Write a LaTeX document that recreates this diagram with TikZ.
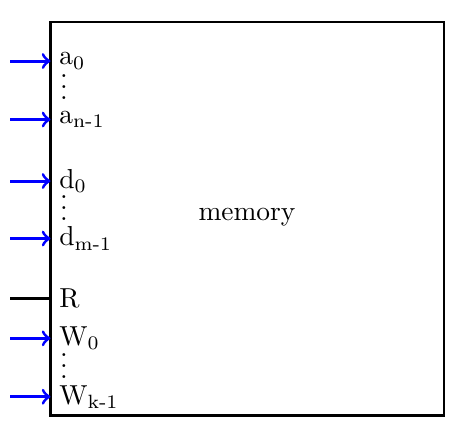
\documentclass[tikz,border=0pt]{standalone}
\usetikzlibrary{positioning,calc}
\begin{document}
\begin{tikzpicture}[
  x=0.0128cm, y=-0.0128cm,
  port/.style={anchor=west, inner sep=3pt},
  inarr/.style={-to, line width=1.1pt, blue},
  pdots/.style={anchor=base, inner sep=0pt}
]
\useasboundingbox (0,0) rectangle (463,439);

% memory block
\coordinate (memtl) at (50.5,22);
\coordinate (membr) at (444,415.5);
\draw[thick] (memtl) rectangle (membr);
\node (mem) at (247,217) {memory};

% inputs
\foreach \y/\nm/\txt in {61/a0/a\textsubscript{0}, 119.5/an/a\textsubscript{n-1},
                          181/d0/d\textsubscript{0}, 238.5/dm/d\textsubscript{m-1},
                          338.3/w0/W\textsubscript{0}, 396.7/wk/W\textsubscript{k-1}}{
  \node[port] (\nm) at (50.5,\y) {\txt};
  \coordinate (in\nm) at (10,\y);
  \draw[inarr] (in\nm) -- (\nm.west);
}
\node[port] (r) at (50.5,298.3) {R};
\coordinate (inr) at (10,298.3);
\draw[line width=1.1pt] (inr) -- (r.west);

% dots
\node[pdots] (adots) at (64,99.5)  {$\vdots$};
\node[pdots] (ddots) at (64,220.3) {$\vdots$};
\node[pdots] (wdots) at (64,378)   {$\vdots$};

\end{tikzpicture}
\end{document}
